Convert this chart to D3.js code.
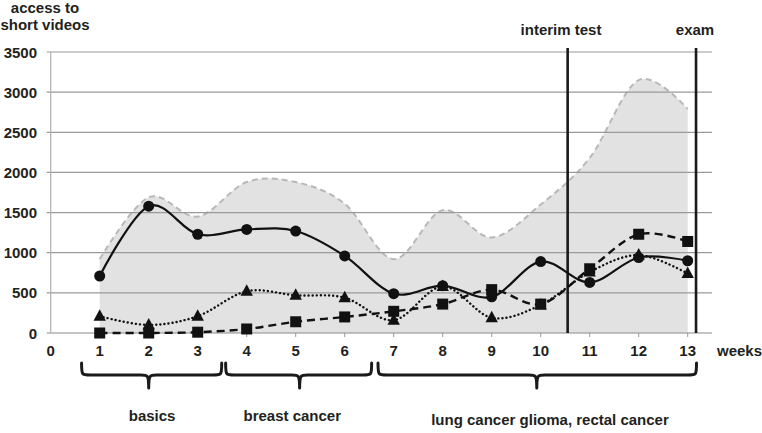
<!DOCTYPE html>
<html><head><meta charset="utf-8">
<script src="https://cdn.jsdelivr.net/npm/d3@7"></script>
<style>
html,body{margin:0;padding:0;background:#fff;}
text{font-family:"Liberation Sans",Arial,sans-serif;font-weight:bold;fill:#231f20;}
</style></head>
<body>
<svg id="chart" width="762" height="433"></svg>
<script>
// ---- data ----
const weeks = [1,2,3,4,5,6,7,8,9,10,11,12,13];
const seriesCircle   = [710,1580,1230,1290,1270,960,490,590,450,890,630,940,900];
const seriesTriangle = [210,100,210,520,470,440,160,580,190,350,760,970,740];
const seriesSquare   = [0,0,10,50,140,200,270,360,540,360,800,1230,1140];
const totalAccess    = [920,1690,1450,1880,1880,1610,920,1530,1190,1600,2180,3150,2790];
const yTicks = [0,500,1000,1500,2000,2500,3000,3500];
const xTicks = [0,1,2,3,4,5,6,7,8,9,10,11,12,13];
const events = [{label:"interim test", week:10.55}, {label:"exam", week:13.17}];
const braceStart = [0.63, 3.57, 6.68];
const braceEnd   = [3.49, 6.55, 13.18];
const braceTip   = [2, 5.08, 9.92];
const topicLabels = ["basics","breast cancer","lung cancer glioma, rectal cancer"];
const topicLabelWeek = [2.07, 4.93, 10.19];

// ---- scales ----
const svg = d3.select("#chart");
const x = d3.scaleLinear().domain([0,13]).range([50.7,687.7]);
const y = d3.scaleLinear().domain([0,3500]).range([333,52]);
const curve = d3.curveCardinal.tension(0);

// area (total)
const totalData = weeks.map((w,i)=>({w, v: totalAccess[i]}));
svg.append("path").datum(totalData)
  .attr("d", d3.area().x(d=>x(d.w)).y0(y(0)).y1(d=>y(d.v)).curve(curve))
  .attr("fill","#e2e2e3");
svg.append("path").datum(totalData)
  .attr("d", d3.line().x(d=>x(d.w)).y(d=>y(d.v)).curve(curve))
  .attr("fill","none").attr("stroke","#b8b8b8").attr("stroke-width",2)
  .attr("stroke-dasharray","6,4");

// gridlines
svg.append("g").selectAll("line").data(yTicks).join("line")
  .attr("x1",46.7).attr("x2",712).attr("y1",d=>y(d)).attr("y2",d=>y(d))
  .attr("stroke",d=>d===0?"#8a8a8a":"#9a9a9a").attr("stroke-width",1.2);
// y axis line
svg.append("line").attr("x1",x(0)).attr("x2",x(0)).attr("y1",y(3500)).attr("y2",y(0))
  .attr("stroke","#b0b0b0").attr("stroke-width",1.2);
// x ticks
svg.append("g").selectAll("line").data(weeks).join("line")
  .attr("x1",d=>x(d)).attr("x2",d=>x(d)).attr("y1",y(0)).attr("y2",y(0)+4)
  .attr("stroke","#9a9a9a").attr("stroke-width",1);

// y tick labels
svg.append("g").selectAll("text").data(yTicks).join("text")
  .attr("x",37).attr("y",d=>y(d)+5.5).attr("text-anchor","end")
  .style("font-size","15px").text(d=>d);
// x tick labels
svg.append("g").selectAll("text").data(xTicks).join("text")
  .attr("x",d=>x(d)).attr("y",356).attr("text-anchor","middle")
  .style("font-size","15px").text(d=>d);

svg.append("text").attr("x",717).attr("y",356).style("font-size","15px").text("weeks");
svg.append("text").attr("x",45).attr("y",13).attr("text-anchor","middle").style("font-size","15px").text("access to");
svg.append("text").attr("x",45).attr("y",30).attr("text-anchor","middle").style("font-size","15px").text("short videos");

// event lines
events.forEach(e=>{
  svg.append("line").attr("x1",x(e.week)).attr("x2",x(e.week)).attr("y1",48).attr("y2",y(0))
    .attr("stroke","#1a1a1a").attr("stroke-width",2.6);
});
svg.append("text").attr("x",561).attr("y",35).attr("text-anchor","middle").style("font-size","15px").text(events[0].label);
svg.append("text").attr("x",695).attr("y",35).attr("text-anchor","middle").style("font-size","15px").text(events[1].label);

// series lines
function drawLine(vals, dash, width){
  svg.append("path").datum(weeks.map((w,i)=>({w,v:vals[i]})))
    .attr("d", d3.line().x(d=>x(d.w)).y(d=>y(d.v)).curve(curve))
    .attr("fill","none").attr("stroke","#111").attr("stroke-width",width)
    .attr("stroke-dasharray",dash).attr("stroke-linecap", dash==="0.1,4"?"round":"butt");
}
drawLine(seriesSquare,"8,5",2.4);
drawLine(seriesTriangle,"0.1,4",2.4);
drawLine(seriesCircle,null,2.2);

// markers
svg.append("g").selectAll("rect").data(seriesSquare).join("rect")
  .attr("x",(d,i)=>x(weeks[i])-5.5).attr("y",d=>y(d)-5.5).attr("width",11).attr("height",11).attr("fill","#111");
svg.append("g").selectAll("path").data(seriesTriangle).join("path")
  .attr("d",(d,i)=>{const cx=x(weeks[i]), cy=y(d); return `M${cx},${cy-7}L${cx+6.2},${cy+4.5}L${cx-6.2},${cy+4.5}Z`;})
  .attr("fill","#111");
svg.append("g").selectAll("circle").data(seriesCircle).join("circle")
  .attr("cx",(d,i)=>x(weeks[i])).attr("cy",d=>y(d)).attr("r",5.5).attr("fill","#111");

// braces
const yTop=363, yMid=375, yTipB=388;
function bracePath(a,b,t){
  const x0=x(a), x1=x(b), xm=x(t);
  return `M${x0},${yTop} C${x0},${yMid} ${x0},${yMid} ${x0+9},${yMid} L${xm-8},${yMid} C${xm-1},${yMid} ${xm},${yMid} ${xm},${yTipB}`+
         ` M${xm},${yTipB} C${xm},${yMid} ${xm+1},${yMid} ${xm+8},${yMid} L${x1-9},${yMid} C${x1},${yMid} ${x1},${yMid} ${x1},${yTop}`;
}
svg.append("g").selectAll("path").data(braceStart).join("path")
  .attr("d",(d,i)=>bracePath(d,braceEnd[i],braceTip[i]))
  .attr("fill","none").attr("stroke","#1a1a1a").attr("stroke-width",3).attr("stroke-linecap","round");
svg.append("g").selectAll("text").data(topicLabels).join("text")
  .attr("x",(d,i)=>x(topicLabelWeek[i])).attr("y",(d,i)=>i===2?425:421).attr("text-anchor","middle")
  .style("font-size","15px").text(d=>d);
</script>
</body></html>
